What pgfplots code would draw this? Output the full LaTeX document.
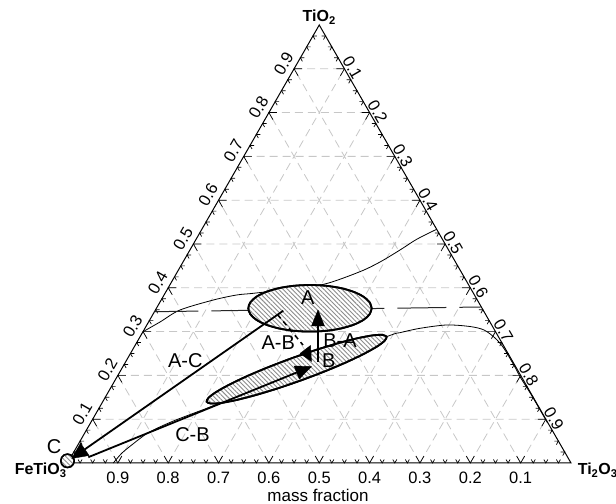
\documentclass[border=0pt]{standalone}
\usepackage{fontspec}
\setmainfont{Liberation Sans}
\usepackage{pgfplots}
\pgfplotsset{compat=1.18}
\usetikzlibrary{patterns.meta}
\newcommand\tkfont{\fontsize{16.5bp}{18bp}\selectfont}
\newcommand\lbfont{\fontsize{20bp}{22bp}\selectfont}
\newcommand\vxfont{\fontsize{16bp}{18bp}\selectfont\bfseries}
\begin{document}
\begin{tikzpicture}[
  tk/.style={black, line width=0.7bp},
  tl/.style={font=\tkfont, inner sep=0pt},
  lb/.style={font=\lbfont, inner sep=0pt},
  hatch/.style={black, line width=1.8bp, fill=white,
     postaction={pattern={Lines[angle=-45,distance=3.2bp,line width=0.9bp]}, pattern color=black!45}},
]
\begin{axis}[
  width=503.5bp, height=438bp, scale only axis,
  xmin=0, xmax=1, ymin=0, ymax=1,
  axis lines=none, xtick=\empty, ytick=\empty, clip=false,
]
% ---- grid ----
\addplot[black!22, line width=0.8bp, dash pattern=on 8bp off 5bp, unbounded coords=jump] coordinates {
 (0.05,0.1) (0.95,0.1) (nan,nan)
 (0.1,0.2) (0.9,0.2) (nan,nan)
 (0.15,0.3) (0.85,0.3) (nan,nan)
 (0.2,0.4) (0.8,0.4) (nan,nan)
 (0.25,0.5) (0.75,0.5) (nan,nan)
 (0.3,0.6) (0.7,0.6) (nan,nan)
 (0.35,0.7) (0.65,0.7) (nan,nan)
 (0.4,0.8) (0.6,0.8) (nan,nan)
 (0.45,0.9) (0.55,0.9) (nan,nan)
 (0.1,0) (0.55,0.9) (nan,nan)
 (0.2,0) (0.6,0.8) (nan,nan)
 (0.3,0) (0.65,0.7) (nan,nan)
 (0.4,0) (0.7,0.6) (nan,nan)
 (0.5,0) (0.75,0.5) (nan,nan)
 (0.6,0) (0.8,0.4) (nan,nan)
 (0.7,0) (0.85,0.3) (nan,nan)
 (0.8,0) (0.9,0.2) (nan,nan)
 (0.9,0) (0.95,0.1) (nan,nan)
 (0.1,0) (0.05,0.1) (nan,nan)
 (0.2,0) (0.1,0.2) (nan,nan)
 (0.3,0) (0.15,0.3) (nan,nan)
 (0.4,0) (0.2,0.4) (nan,nan)
 (0.5,0) (0.25,0.5) (nan,nan)
 (0.6,0) (0.3,0.6) (nan,nan)
 (0.7,0) (0.35,0.7) (nan,nan)
 (0.8,0) (0.4,0.8) (nan,nan)
 (0.9,0) (0.45,0.9)
};
% ---- triangle ----
\addplot[black, line width=1bp, line join=miter] coordinates {(0,0) (1,0) (0.5,1) (0,0) (1,0)};
% ---- ticks ----
\foreach \k in {1,...,39}{%
  \pgfmathsetmacro\tk{\k/40}%
  \pgfmathsetmacro\fk{(mod(\k,4)==0) ? 0.016 : 0.008}%
  \pgfmathsetmacro\ax{\tk+0.5*\fk}%
  \pgfmathsetmacro\bx{\tk-0.5*\fk}%
  \pgfmathsetmacro\lx{\tk/2}%
  \pgfmathsetmacro\rx{1-\tk/2}%
  \pgfmathsetmacro\la{\lx+\fk}%
  \pgfmathsetmacro\lb{\lx+0.5*\fk}%
  \pgfmathsetmacro\ly{\tk-\fk}%
  \pgfmathsetmacro\ra{\rx-\fk}%
  \pgfmathsetmacro\rb{\rx-0.5*\fk}%
  \edef\temp{\noexpand\draw[tk] (axis cs:\ax,\fk) -- (axis cs:\tk,0) -- (axis cs:\bx,\fk);
    \noexpand\draw[tk] (axis cs:\la,\tk) -- (axis cs:\lx,\tk) -- (axis cs:\lb,\ly);
    \noexpand\draw[tk] (axis cs:\ra,\tk) -- (axis cs:\rx,\tk) -- (axis cs:\rb,\ly);}%
  \temp
}
% ---- tick labels ----
\foreach \v/\w in {1/9,2/8,3/7,4/6,5/5,6/4,7/3,8/2,9/1}{%
  \pgfmathsetmacro\yy{\v/10}%
  \pgfmathsetmacro\lx{\v/20}%
  \pgfmathsetmacro\rx{1-\v/20}%
  \edef\temp{%
    \noexpand\node[tl, anchor=base] at ([yshift=-21bp]axis cs:\yy,0) {0.\w};
    \noexpand\node[tl, rotate=60] at ([xshift=-10.4bp,yshift=5.4bp]axis cs:\lx,\yy) {0.\v};
    \noexpand\node[tl, rotate=-60] at ([xshift=8bp,yshift=1bp]axis cs:\rx,\yy) {0.\w};
  }\temp
}
% ---- boundary curves ----
\addplot[black, line width=0.8bp, smooth] coordinates {
 (0.1500,0.2998) (0.1837,0.3219) (0.2234,0.3493) (0.2896,0.3721) (0.3361,0.3836)
 (0.3690,0.3874) (0.4419,0.3973) (0.5114,0.4087) (0.5809,0.4368) (0.6207,0.4589)
 (0.6604,0.4863) (0.6935,0.5107) (0.7332,0.5336)};
\addplot[black, line width=0.8bp, smooth] coordinates {
 (0.0910,0) (0.1076,0.0221) (0.1275,0.0411) (0.1605,0.0692) (0.2070,0.0943)
 (0.2532,0.1148) (0.2930,0.1324) (0.4618,0.2123) (0.6346,0.2888) (0.6604,0.2975)
 (0.7001,0.3075) (0.7531,0.3151) (0.7994,0.3116) (0.8272,0.3037) (0.8491,0.2854)
 (0.8649,0.2648) (0.8789,0.2386) (0.8908,0.2146) (0.8997,0.1952) (0.9225,0.1530)
 (0.9535,0.0913)};
\addplot[black!85, line width=1bp, dash pattern=on 49bp off 13bp, dash phase=5bp] coordinates {
 (0.1727,0.3454) (0.8219,0.3562)};
% ---- regions ----
\addplot[hatch, smooth] coordinates {
 (0.6041,0.3532) (0.5999,0.3670) (0.5877,0.3798) (0.5682,0.3908) (0.5429,0.3993)
 (0.5133,0.4046) (0.4816,0.4064) (0.4499,0.4046) (0.4203,0.3993) (0.3950,0.3908)
 (0.3755,0.3798) (0.3633,0.3670) (0.3591,0.3532) (0.3633,0.3394) (0.3755,0.3266)
 (0.3950,0.3156) (0.4203,0.3071) (0.4499,0.3018) (0.4816,0.3000) (0.5133,0.3018)
 (0.5429,0.3071) (0.5682,0.3156) (0.5877,0.3266) (0.5999,0.3394) (0.6041,0.3532)};
\addplot[hatch, smooth] coordinates {
 (0.6340,0.2883) (0.6258,0.2925) (0.6060,0.2913) (0.5759,0.2848) (0.5376,0.2736)
 (0.4937,0.2582) (0.4471,0.2399) (0.4011,0.2198) (0.3588,0.1994) (0.3231,0.1799)
 (0.2963,0.1628) (0.2804,0.1492) (0.2764,0.1400) (0.2846,0.1358) (0.3044,0.1370)
 (0.3345,0.1435) (0.3728,0.1548) (0.4168,0.1701) (0.4633,0.1884) (0.5093,0.2085)
 (0.5516,0.2289) (0.5873,0.2484) (0.6141,0.2655) (0.6300,0.2791) (0.6340,0.2883)};
\addplot[black, line width=1.5bp, fill=white,
   postaction={pattern={Lines[angle=-45,distance=3.2bp,line width=0.9bp]}, pattern color=black!45}, smooth] coordinates {
 (0.0133,0.0050) (0.0115,0.0127) (0.0067,0.0183) (0,0.0203) (-0.0067,0.0183)
 (-0.0115,0.0127) (-0.0133,0.0050) (-0.0115,-0.0027) (-0.0067,-0.0083) (0,-0.0103)
 (0.0067,-0.0083) (0.0115,-0.0027) (0.0133,0.0050)};
% ---- arrows ----
% A-C
\addplot[black, line width=1.8bp] coordinates {(0.4286,0.3477) (0.0344,0.0312)};
\addplot[black, fill=black, line width=0.4bp] coordinates {(0.0083,0.0103) (0.0429,0.0171) (0.0259,0.0452) (0.0083,0.0103)};
% C-B
\addplot[black, line width=1.8bp] coordinates {(0.0413,0.0132) (0.4552,0.2066)};
\addplot[black, fill=black, line width=0.4bp] coordinates {(0.4846,0.2203) (0.4604,0.1918) (0.4499,0.2214) (0.4846,0.2203)};
% B-A
\addplot[black, line width=1.5bp] coordinates {(0.4975,0.2313) (0.4975,0.3128)};
\addplot[black, fill=black, line width=0.4bp] coordinates {(0.4975,0.3493) (0.4846,0.3128) (0.5104,0.3128) (0.4975,0.3493)};
% A-B
\addplot[black, line width=1.5bp, dash pattern=on 5bp off 4bp] coordinates {(0.4171,0.3390) (0.4677,0.2694)};
\addplot[black, fill=black, line width=0.4bp] coordinates {(0.4618,0.2500) (0.4826,0.2683) (0.4846,0.2317) (0.4618,0.2500)};
% ---- labels ----
\node[lb] at (axis cs:0.4773,0.3772) {A};
\node[lb] at (axis cs:0.5412,0.2801) {B-A};
\node[lb] at (axis cs:0.5190,0.2345) {B};
\node[lb] at (axis cs:0.4187,0.2751) {A-B};
\node[lb] at (axis cs:0.2340,0.2333) {A-C};
\node[lb] at (axis cs:0.2483,0.0651) {C-B};
\node[lb] at (axis cs:-0.0264,0.0372) {C};
\node[font=\vxfont, anchor=base, inner sep=0pt] at ([yshift=3.3bp]axis cs:0.5,1) {TiO\textsubscript{2}};
\node[font=\vxfont, anchor=base east, inner sep=0pt] at ([xshift=-0.7bp,yshift=-12bp]axis cs:0,0) {FeTiO\textsubscript{3}};
\node[font=\vxfont, anchor=base west, inner sep=0pt] at ([xshift=6.6bp,yshift=-12bp]axis cs:1,0) {Ti\textsubscript{2}O\textsubscript{3}};
\node[font=\fontsize{17bp}{19bp}\selectfont, anchor=base, inner sep=0pt] at ([yshift=-38.5bp]axis cs:0.4975,0) {mass fraction};
\coordinate (bbsw) at (axis cs:-0.13406,-0.09361);
\coordinate (bbne) at (axis cs:1.08937,1.05708);
\end{axis}
\pgfresetboundingbox
\path (bbsw) rectangle (bbne);
\end{tikzpicture}
\end{document}
